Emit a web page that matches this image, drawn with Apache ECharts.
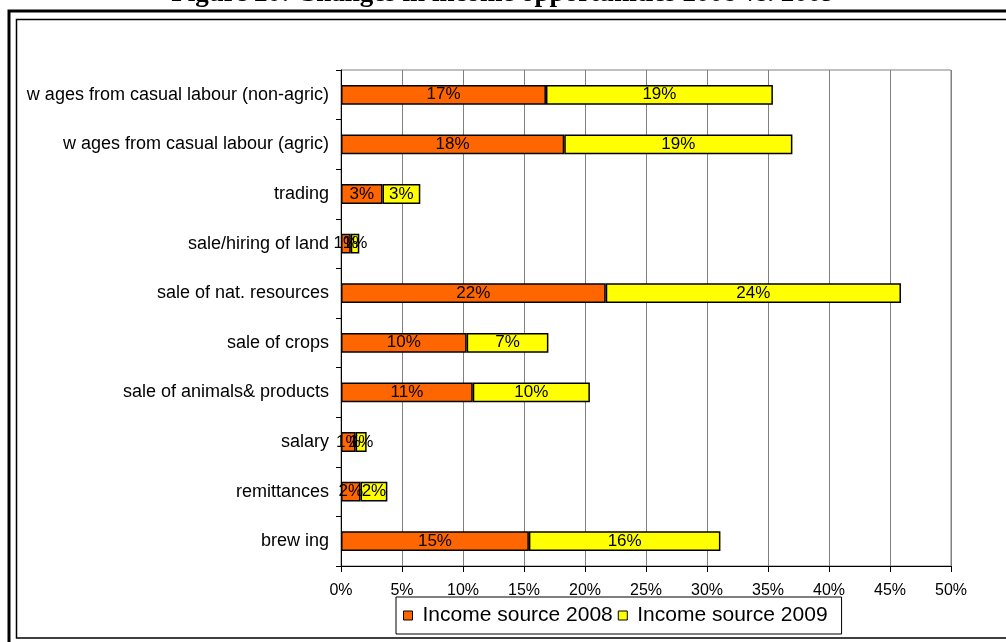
<!DOCTYPE html>
<html>
<head>
<meta charset="utf-8">
<script src="https://cdn.jsdelivr.net/npm/echarts@6/dist/echarts.min.js"></script>
<style>
  html, body { margin: 0; padding: 0; background: #fff; }
  #chart { width: 1006px; height: 642px; }
</style>
</head>
<body>
<div id="chart"></div>
<script>
// Income source categories, top to bottom
const categories = [
  'w ages from casual labour (non-agric)',
  'w ages from casual labour (agric)',
  'trading',
  'sale/hiring of land',
  'sale of nat. resources',
  'sale of crops',
  'sale of animals& products',
  'salary',
  'remittances',
  'brew ing'
];

// Share of households per income source (%)
const income2008 = [16.8, 18.3, 3.4, 0.8, 21.7, 10.3, 10.8, 1.2, 1.6, 15.4];
const income2009 = [18.6, 18.7, 3.1, 0.7, 24.2, 6.7, 9.6, 0.9, 2.2, 15.7];

const seriesNames = ['Income source 2008', 'Income source 2009'];
const xTicks = { min: 0, max: 50, interval: 5 };

const titleText = 'Figure 20: Changes in income opportunities 2008 vs. 2009';

const sans = 'Liberation Sans, Arial, sans-serif';

const chart = echarts.init(document.getElementById('chart'), null, { renderer: 'canvas' });

const labelOpt = {
  show: true,
  position: 'inside',
  color: '#000',
  fontFamily: sans,
  fontSize: 17,
  formatter: p => Math.round(p.value) + '%'
};

chart.setOption({
  backgroundColor: '#fff',
  animation: false,
  graphic: [
    // page heading, partly above the frame
    {
      type: 'text', left: 'center', top: -19, z: 10,
      style: {
        text: titleText,
        font: 'bold 27px "Liberation Serif", "Times New Roman", serif',
        fill: '#000'
      }
    },
    // double frame around the chart
    { type: 'rect', shape: { x: 9, y: 11, width: 1010, height: 640 },
      style: { fill: 'none', stroke: '#000', lineWidth: 3 } },
    { type: 'rect', shape: { x: 16.5, y: 19.5, width: 1010, height: 618.5 },
      style: { fill: 'none', stroke: '#000', lineWidth: 1.5 } }
  ],
  grid: {
    left: 341, right: 55, top: 70, bottom: 76,
    show: true, borderColor: '#808080', borderWidth: 1
  },
  legend: {
    data: seriesNames,
    left: 396, top: 597,
    orient: 'horizontal',
    itemWidth: 9, itemHeight: 9, itemGap: 5,
    icon: 'rect',
    padding: [8, 14, 8, 7],
    borderColor: '#000', borderWidth: 1,
    backgroundColor: '#fff',
    textStyle: {
      color: '#000', fontSize: 21,
      fontFamily: sans,
      padding: [0, 0, 0, 5]
    },
    itemStyle: { borderColor: '#000', borderWidth: 1 }
  },
  xAxis: {
    type: 'value',
    min: xTicks.min, max: xTicks.max, interval: xTicks.interval,
    axisLine: { show: true, lineStyle: { color: '#000', width: 1 } },
    axisTick: { show: true, length: 6, lineStyle: { color: '#000' } },
    axisLabel: {
      formatter: '{value}%', color: '#000', fontSize: 16, margin: 17,
      fontFamily: sans
    },
    splitLine: { show: true, lineStyle: { color: '#808080', width: 1 } }
  },
  yAxis: {
    type: 'category',
    data: categories,
    inverse: true,
    axisLine: { show: true, lineStyle: { color: '#000', width: 1 } },
    axisTick: { show: true, length: 5, lineStyle: { color: '#000' } },
    axisLabel: {
      color: '#000', fontSize: 18, margin: 12,
      fontFamily: sans
    }
  },
  series: [
    {
      name: seriesNames[0], type: 'bar', stack: 'total',
      data: income2008, barCategoryGap: '60%',
      itemStyle: { color: '#FF6600', borderColor: '#000', borderWidth: 1.5 },
      label: labelOpt
    },
    {
      name: seriesNames[1], type: 'bar', stack: 'total',
      data: income2009, barCategoryGap: '60%',
      itemStyle: { color: '#FFFF00', borderColor: '#000', borderWidth: 1.5 },
      label: labelOpt
    }
  ]
});
</script>
</body>
</html>
